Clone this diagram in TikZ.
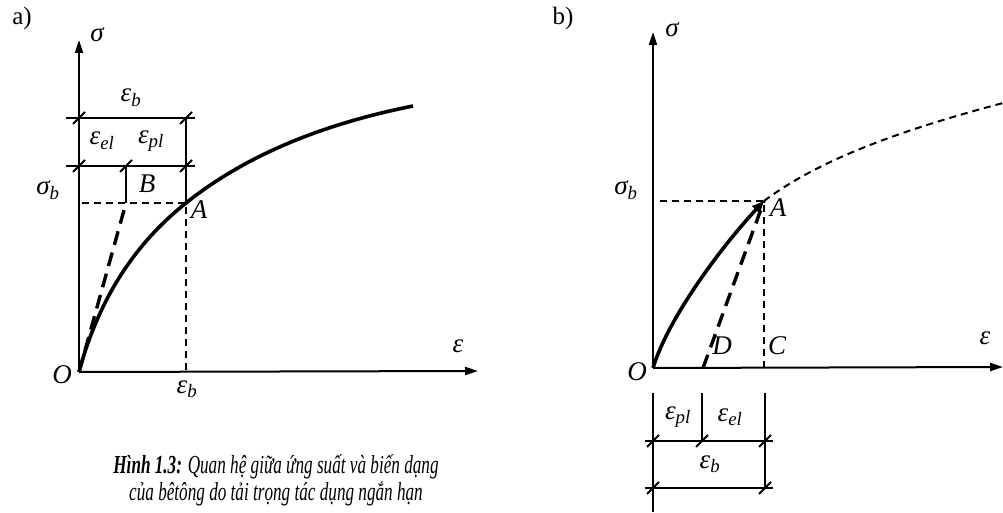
\documentclass[tikz,border=0pt]{standalone}
\usepackage{fontspec}
\setmainfont{Liberation Serif}
\newfontfamily\capfont[FakeStretch=0.66]{Liberation Serif}
\usetikzlibrary{arrows.meta}

\newcommand{\eps}[1]{\textit{ε\textsubscript{#1}}}
\newcommand{\sig}[1]{\textit{σ\textsubscript{#1}}}

\begin{document}
\begin{tikzpicture}[x=1pt, y=-1pt,
    axis/.style={line width=2pt, -{Triangle[length=13pt,width=8pt]}},
    curve/.style={line width=3.6pt},
    unload/.style={line width=3.4pt, dash pattern=on 14pt off 8pt},
    guide/.style={line width=1.5pt, dash pattern=on 7pt off 5pt},
    dimline/.style={line width=1.7pt},
    tickmark/.style={line width=2pt},
    lbl/.style={font=\fontsize{27}{29}\selectfont\itshape, inner sep=0pt}]
    \useasboundingbox (0,0) rectangle (1003,513);

    % ---------- a) short-term loading ----------
    \coordinate (Oa) at (79,372);
    \coordinate (Aa) at (186,203);
    \coordinate (Ba) at (126,203);
    \node[font=\fontsize{25}{27}\selectfont] (pa) at (22,18) {a)};

    % Axes
    \draw[axis] (Oa) -- (79,40);
    \draw[axis] (Oa) -- (478,371);
    \node[lbl] (sa) at (97,35) {σ};
    \node[lbl] (ea) at (458,346) {ε};
    \node[lbl] (oa) at (62,375) {O};

    % Stress-strain curve
    \draw[curve] (Oa) .. controls (101,290) and (142,238) .. (Aa)
                      .. controls (246,155) and (323,124) .. (413,106);
    % Elastic line
    \draw[unload] (Oa) -- (Ba);

    % Guide lines
    \draw[guide] (82,203) -- (Aa) -- (186,372);
    \node[lbl] (sba) at (48,190) {\sig{b}};
    \node[lbl] (aa) at (199,210) {A};
    \node[lbl] (ba) at (147,184) {B};
    \node[lbl] (eba) at (187,389) {\eps{b}};

    % Dimension lines
    \draw[dimline] (66,118) -- (195,118);
    \draw[dimline] (66,166) -- (195,166);
    \draw[dimline] (186,118) -- (Aa);
    \draw[dimline] (126,166) -- (Ba);
    \foreach \p in {(79,118),(186,118),(79,166),(126,166),(186,166)}
        \draw[tickmark] \p ++(-6,6) -- ++(12,-12);
    \node[lbl] (eb1) at (131,98) {\eps{b}};
    \node[lbl] (eel1) at (102,141) {\eps{el}};
    \node[lbl] (epl1) at (151,141) {\eps{pl}};

    % Caption
    \node[align=center, font=\capfont\fontsize{26}{27}\selectfont] (cap) at (276,480)
        {\textbf{\textit{Hình 1.3:}} \textit{Quan hệ giữa ứng suất và biến dạng}\\
         \textit{của bêtông do tải trọng tác dụng ngắn hạn}};

    % ---------- b) unloading ----------
    \coordinate (Ob) at (653,368);
    \coordinate (Ab) at (764,201);
    \coordinate (Db) at (703,368);
    \coordinate (Cb) at (764,368);
    \node[font=\fontsize{25}{27}\selectfont] (pb) at (563,18) {b)};

    % Axes
    \draw[axis] (Ob) -- (653,32);
    \draw[axis] (Ob) -- (1003,367);
    \node[lbl] (sb) at (672,30) {σ};
    \node[lbl] (eb) at (985,338) {ε};
    \node[lbl] (ob) at (637,372) {O};

    % Loading curve up to A
    \draw[curve, -{Triangle[length=12pt,width=10pt]}]
        (Ob) .. controls (668,318) and (722,246) .. (Ab);
    % Continuation beyond A
    \draw[guide, line width=2pt] (Ab) .. controls (824,156) and (913,127) .. (1003,103);
    % Unloading line
    \draw[unload] (Db) -- (Ab);

    % Guide lines
    \draw[guide] (660,201) -- (Ab) -- (Cb);
    \node[lbl] (sbb) at (626,190) {\sig{b}};
    \node[lbl] (ab) at (778,208) {A};
    \node[lbl] (db) at (722,346) {D};
    \node[lbl] (cb) at (777,346) {C};

    % Dimension lines
    \draw[dimline] (653,393) -- (653,512);
    \draw[dimline] (702,393) -- (702,441);
    \draw[dimline] (765,393) -- (765,488);
    \draw[dimline] (645,441) -- (773,441);
    \draw[dimline] (645,488) -- (773,488);
    \foreach \p in {(653,441),(702,441),(765,441),(653,488),(765,488)}
        \draw[tickmark] \p ++(-6,6) -- ++(12,-12);
    \node[lbl] (epl2) at (678,417) {\eps{pl}};
    \node[lbl] (eel2) at (730,417) {\eps{el}};
    \node[lbl] (eb2) at (710,464) {\eps{b}};
\end{tikzpicture}
\end{document}
